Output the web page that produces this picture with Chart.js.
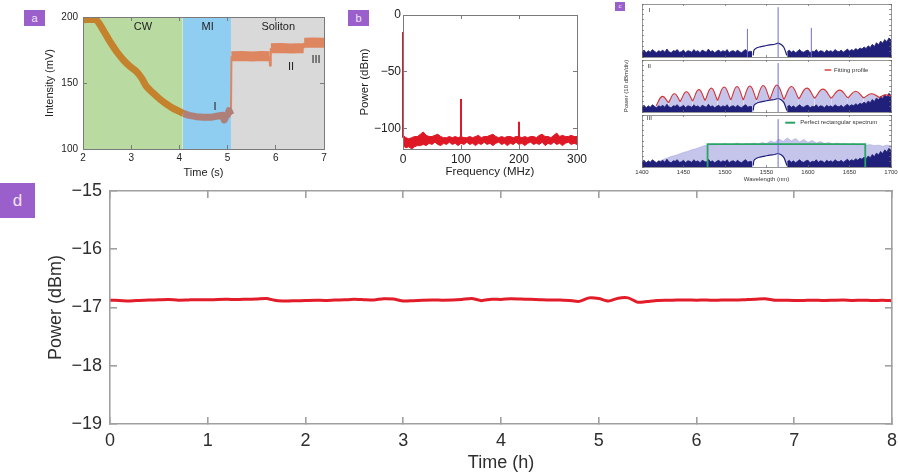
<!DOCTYPE html>
<html>
<head>
<meta charset="utf-8">
<title>Soliton microcomb measurements</title>
<script src="https://cdn.jsdelivr.net/npm/chart.js@4.4.0/dist/chart.umd.min.js"></script>
<style>
  body { margin: 0; width: 898px; height: 475px; background: #fff; position: relative; overflow: hidden; font-family: "Liberation Sans", Arial, sans-serif; }
  canvas { position: absolute; }
  .tag { position: absolute; background: #9b5fcb; color: #efe4f7; text-align: center; }
</style>
</head>
<body>
<div class="tag" style="left:24px;top:10px;width:21px;height:16px;font-size:11px;line-height:16px">a</div>
<div class="tag" style="left:348px;top:10px;width:21px;height:16px;font-size:11px;line-height:16px">b</div>
<div class="tag" style="left:615px;top:2px;width:10px;height:9px;font-size:6px;line-height:9px">c</div>
<div class="tag" style="left:0;top:183px;width:35px;height:35px;font-size:17px;line-height:35px">d</div>

<canvas id="chartA"></canvas>
<canvas id="chartB"></canvas>
<canvas id="chartC1"></canvas>
<canvas id="chartC2"></canvas>
<canvas id="chartC3"></canvas>
<canvas id="chartD"></canvas>

<script>
// ---- panel a : intensity vs time ----
const regionStart = [2, 4.07, 5.07];
const regionEnd = [4.07, 5.07, 7];
const regionNames = ['CW', 'MI', 'Soliton'];
const cwTime = [2.0, 2.25, 2.32, 2.42, 2.56, 2.70, 2.84, 2.98, 3.11, 3.22, 3.32, 3.46, 3.60, 3.74, 3.87, 4.01, 4.08];
const cwMv = [198, 198, 196, 190, 181.3, 173.7, 167.4, 162.4, 158.6, 153.5, 147.2, 142.2, 137.6, 133.8, 130.8, 128.3, 127];
const miTime = [4.08, 4.2, 4.35, 4.5, 4.65, 4.8, 4.9, 4.93, 4.97, 5.0, 5.03, 5.07];
const miMv = [127, 125.5, 124.5, 124, 124, 125, 125.5, 122, 125, 126, 129, 126];
const solTime = [5.07, 5.08, 5.3, 5.5, 5.7, 5.87, 5.88, 5.89, 5.9, 6.1, 6.3, 6.5, 6.58, 6.59, 6.8, 7.0];
const solMv = [126, 170.2, 170.5, 170, 170.4, 170.2, 163, 170.2, 176.3, 176.5, 176.2, 176.4, 176.3, 180.5, 180.6, 180.5];

// ---- panel b : RF spectrum ----
const bandStep = 5; // MHz between samples, from 0
const bandHigh = [-106,-108,-109,-108,-107,-107,-105,-103,-106,-107,
  -107,-106,-105,-107,-108,-108,-107,-108,-107,-108,
  -107,-108,-108,-107,-108,-107,-106,-108,-107,-107,
  -106,-105,-107,-108,-107,-108,-107,-107,-108,-107,
  -107,-108,-107,-108,-107,-107,-108,-106,-105,-107,
  -107,-108,-106,-104,-107,-106,-107,-107,-106,-107,-107];
const bandLow = [-115,-117,-116,-118,-116,-115,-115,-114,-115,-113,
  -114,-112,-114,-115,-113,-114,-112,-114,-113,-115,
  -113,-114,-112,-114,-113,-115,-113,-114,-112,-114,
  -113,-115,-113,-112,-114,-113,-115,-113,-114,-112,
  -114,-113,-115,-113,-112,-114,-113,-114,-112,-115,
  -113,-114,-112,-114,-113,-115,-113,-112,-114,-113,-114];
const rfSpikeMHz = [0, 100, 200];
const rfSpikeTop = [-15, -74, -94];
const rfSpikeBase = -108;

// ---- panel c : optical spectra (10 dB/div, 0-100 = full frame) ----
const floorStep = 2.5;
const floorWestStart = 1400;
const floorWest = [10,13,8,12,9,14,11,8,12,10, 13,9,15,10,8,12,11,14,9,10,
  13,8,12,11,9,14,10,12,8,13, 11,9,15,10,12,8,11,13,9,12,
  10,14,8,11,12,9,13,10,8,12, 14,9,11,10];
const floorEastStart = 1575;
const floorEast = [10,13,9,12,8,11,14,10,9,12, 13,8,11,10,14,9,12,11,8,13,
  10,12,9,14,11,10,13,9,12,15, 11,14,12,16,13,17,15,19,16,21,
  18,24,20,27,23,30,26,33,29,36,32];
const humpNm = [1534, 1535, 1538, 1542, 1548, 1554, 1560, 1564, 1568, 1571, 1573, 1574.5];
const humpLevel = [3, 13, 17, 19, 21, 23, 24, 26, 23, 18, 10, 3];
const lineNmI = [1527, 1564, 1604];
const lineTopI = [53, 94, 55];
const lineNmII = [1564];
const lineTopII = [94];
const lineNmIII = [1564];
const lineTopIII = [92];
const lobeEdge = [1417,1432,1446,1461,1476,1491,1507,1522,1538,1554,1571,1589,1608,1628,1648,1667,1686,1700];
const lobeEdgeLevel = [12,18,20,21,22,22,23,23,23,24,24,25,26,26,27,27,28,31];
const lobePeakNm = [1424.5,1439,1453.5,1468.5,1483.5,1499,1514.5,1530,1546,1562.5,1580,1598.5,1618,1638,1657.5,1676.5,1693];
const lobePeak = [30,35,39,43,46,48,49,50,51,52,49,46,44,42,40,35,33];
const combStart = 1420, combStep = 5;
const combLevel = [10,14,17,20,22,25,28,30,33,35,38,41,43,
  42,44,43,45,43,44,46,43,45,44, 46,44,47,45,50,47,54,49,56,50,
  55,48,53,47,51,46,49,45,47,44, 46,44,45,43,45,42,44,42,43,41, 42,40,42,41];
const rectNm = [1479, 1669];
const rectLevel = 44;

// ---- panel d : long-term power ----
const hourStep = 0.1;
const powerDbm = [-16.875,-16.880,-16.887,-16.878,-16.872,-16.868,-16.864,-16.874,-16.870,-16.866,
  -16.869,-16.862,-16.860,-16.864,-16.858,-16.855,-16.845,-16.880,-16.888,-16.884,
  -16.880,-16.876,-16.878,-16.872,-16.868,-16.860,-16.866,-16.870,-16.850,-16.856,
  -16.890,-16.884,-16.876,-16.872,-16.874,-16.872,-16.862,-16.845,-16.882,-16.858,
  -16.862,-16.850,-16.855,-16.860,-16.866,-16.872,-16.870,-16.880,-16.895,-16.835,
  -16.845,-16.890,-16.840,-16.835,-16.910,-16.895,-16.880,-16.876,-16.872,-16.870,
  -16.874,-16.872,-16.876,-16.870,-16.872,-16.866,-16.860,-16.848,-16.874,-16.876,
  -16.880,-16.878,-16.874,-16.880,-16.876,-16.872,-16.878,-16.874,-16.880,-16.876,-16.882];

// ---------------------------------------------------------------
Chart.defaults.font.family = '"Liberation Sans", Arial, sans-serif';
Chart.defaults.animation = false;
Chart.defaults.responsive = false;
Chart.defaults.plugins.legend.display = false;
Chart.defaults.plugins.tooltip.enabled = false;
Chart.defaults.elements.point.radius = 0;

const zip = (xs, ys) => xs.map((x, i) => ({x, y: ys[i]}));
const sampled = (start, step, ys) => ys.map((y, i) => ({x: start + i * step, y}));
// vertical strokes from base to top, broken with null between them
const strokes = (xs, tops, base) => xs.flatMap((x, i) => [{x, y: base}, {x, y: tops[i]}, {x, y: null}]);
const minus = v => String(v).replace('-', '\u2212');

function fitTo(size) {
  return sc => {
    if (sc.isHorizontal()) sc.height = size; else sc.width = size;
    sc.paddingLeft = sc.paddingRight = sc.paddingTop = sc.paddingBottom = 0;
  };
}

function frameAxes(box, plot, st) {
  const axis = (pos, lim, size, show, pad, title) => ({
    type: 'linear', position: pos, min: lim[0], max: lim[1], offset: false,
    afterFit: fitTo(size),
    // grid (inner tick marks) and border drawn after the datasets
    border: {display: true, color: st.frame, width: st.fw, z: 2},
    grid: {display: true, drawOnChartArea: false, drawTicks: true, tickLength: -st.tick,
           color: st.frame, lineWidth: st.fw, offset: false, z: 1},
    ticks: {display: show, stepSize: lim[2], includeBounds: false, autoSkip: false, maxRotation: 0,
            padding: pad, font: st.font, color: st.ink, callback: minus},
    title: title ? {display: true, text: title, font: st.titleFont, color: st.ink, padding: 0} : {display: false}
  });
  return {
    x: axis('bottom', st.x, box.b - plot.b, st.xLabels !== false, st.xPad, st.xTitle),
    x2: axis('top', st.x, 0, false, 0, null),
    y: axis('left', st.y, plot.l - box.l, st.yLabels !== false, st.yPad, st.yTitle),
    y2: axis('right', st.y, 0, false, 0, null)
  };
}

function notes(items) {
  return {
    id: 'notes',
    afterDatasetsDraw(chart) {
      const {ctx, scales} = chart;
      items.forEach(n => {
        const px = scales.x.getPixelForValue(n.x), py = scales.y.getPixelForValue(n.y);
        ctx.save();
        if (n.key) {
          ctx.strokeStyle = n.key; ctx.lineWidth = n.keyWidth;
          ctx.beginPath();
          ctx.moveTo(scales.x.getPixelForValue(n.keyFrom), py);
          ctx.lineTo(scales.x.getPixelForValue(n.keyTo), py);
          ctx.stroke();
        }
        ctx.font = n.font; ctx.fillStyle = n.color || '#222';
        ctx.textAlign = n.align || 'center'; ctx.textBaseline = 'middle';
        ctx.fillText(n.text, px, py);
        ctx.restore();
      });
    }
  };
}

function build(id, box, plot, datasets, scales, plugins) {
  const cv = document.getElementById(id);
  cv.width = box.r - box.l; cv.height = box.b - box.t;
  cv.style.left = box.l + 'px'; cv.style.top = box.t + 'px';
  return new Chart(cv, {
    type: 'line',
    data: {datasets},
    options: {
      layout: {autoPadding: false, padding: {top: plot.t - box.t, right: box.r - plot.r, left: 0, bottom: 0}},
      events: [],
      scales
    },
    plugins: plugins || []
  });
}

// ---- a ----
(function () {
  const box = {l: 43, t: 5, r: 335, b: 180}, plot = {l: 83, t: 17, r: 324, b: 149};
  const shade = ['#b9dba2', '#8fcdf1', '#d9d9d9'];
  const regions = regionStart.map((s, i) => ({
    data: [{x: s, y: 200}, {x: regionEnd[i], y: 200}],
    fill: 'start', backgroundColor: shade[i], borderWidth: 0, order: 10
  }));
  // steep transitions are thin in the trace
  const thinJumps = {borderWidth: c => (Math.abs(c.p1.parsed.y - c.p0.parsed.y) > 4 && c.p1.parsed.x - c.p0.parsed.x < 0.03 ? 2 : undefined)};
  const datasets = regions.concat([
    {data: zip(cwTime, cwMv), borderColor: '#c4822d', borderWidth: 7, tension: 0.3, borderJoinStyle: 'round', order: 1},
    {data: zip(miTime, miMv), borderColor: '#ae8079', borderWidth: 7, tension: 0, borderJoinStyle: 'round', order: 1},
    {data: zip(solTime, solMv), borderColor: '#de8660', borderWidth: 10, tension: 0, borderJoinStyle: 'bevel', order: 1,
     segment: thinJumps}
  ]);
  const f = '11px "Liberation Sans", Arial';
  const marks = [
    {text: regionNames[0], x: 3.245, y: 192.4, font: f},
    {text: regionNames[1], x: 4.587, y: 192.4, font: f},
    {text: regionNames[2], x: 6.05, y: 192.4, font: f},
    {text: 'I', x: 4.74, y: 131.6, font: f},
    {text: 'II', x: 6.315, y: 162.4, font: f},
    {text: 'III', x: 6.834, y: 167.4, font: f}
  ];
  build('chartA', box, plot, datasets, frameAxes(box, plot, {
    x: [2, 7, 1], y: [100, 200, 50], frame: '#7a7a7a', fw: 1, tick: 4,
    font: {size: 10}, titleFont: {size: 11}, ink: '#222', xPad: 7, yPad: 9,
    xTitle: 'Time (s)', yTitle: 'Intensity (mV)'
  }), [notes(marks)]);
})();

// ---- b ----
(function () {
  const box = {l: 358, t: 5, r: 592, b: 179}, plot = {l: 403, t: 15, r: 577, b: 149};
  const red = 'rgb(222,24,36)';
  const datasets = [
    {data: strokes(rfSpikeMHz, rfSpikeTop, rfSpikeBase), borderColor: red, borderWidth: 2, spanGaps: false,
     clip: {left: 3, top: 0, right: 0, bottom: 0}},
    {data: sampled(0, bandStep, bandHigh), borderColor: red, borderWidth: 1, fill: '+1', backgroundColor: red},
    {data: sampled(0, bandStep, bandLow), borderColor: red, borderWidth: 1}
  ];
  build('chartB', box, plot, datasets, frameAxes(box, plot, {
    x: [0, 300, 100], y: [-118, 0, 50], frame: '#7a7a7a', fw: 1, tick: 4,
    font: {size: 12}, titleFont: {size: 11.5}, ink: '#222', xPad: 7, yPad: 6,
    xTitle: 'Frequency (MHz)', yTitle: 'Power (dBm)'
  }));
})();

// ---- c ----
(function () {
  const navy = 'rgb(32,32,122)', line = 'rgb(110,110,205)', lav = 'rgba(158,158,222,0.6)';
  const small = '6px "Liberation Sans", Arial';
  const style = extra => Object.assign({
    x: [1400, 1700, 50], y: [0, 100, 10], frame: '#6a6a6a', fw: 0.7, tick: 2,
    font: {size: 6}, titleFont: {size: 6}, ink: '#333', xPad: 4, yPad: 0,
    xLabels: false, yLabels: false
  }, extra);
  const base = () => [
    {data: sampled(floorWestStart, floorStep, floorWest), fill: 'start', backgroundColor: navy, borderColor: navy, borderWidth: 0.8, order: 2},
    {data: sampled(floorEastStart, floorStep, floorEast), fill: 'start', backgroundColor: navy, borderColor: navy, borderWidth: 0.8, order: 2},
    {data: zip(humpNm, humpLevel), fill: 'start', backgroundColor: '#fff', borderColor: navy, borderWidth: 1.2, tension: 0.3, order: 3}
  ];

  // I
  let box = {l: 630, t: 0, r: 898, b: 58}, plot = {l: 642, t: 4, r: 891, b: 57};
  build('chartC1', box, plot, base().concat([
    {data: strokes(lineNmI, lineTopI, 0), borderColor: line, borderWidth: 1, spanGaps: false, order: 0}
  ]), frameAxes(box, plot, style({})), [notes([{text: 'I', x: 1408.8, y: 88, font: small}])]);

  // II
  const arcs = lobePeakNm.flatMap((px, i) => [
    {x: lobeEdge[i], y: lobeEdgeLevel[i]}, {x: px, y: lobePeak[i]},
    {x: lobeEdge[i + 1], y: lobeEdgeLevel[i + 1]}, {x: lobeEdge[i + 1], y: null}
  ]);
  box = {l: 623, t: 59, r: 898, b: 113}; plot = {l: 642, t: 60, r: 891, b: 112};
  build('chartC2', box, plot, base().concat([
    {data: arcs, fill: 'start', backgroundColor: lav, borderWidth: 0, tension: 0.45, spanGaps: false, order: 5},
    {data: arcs, borderColor: 'rgb(214,50,50)', borderWidth: 1.1, tension: 0.45, spanGaps: false, order: 1},
    {data: strokes(lineNmII, lineTopII, 0), borderColor: line, borderWidth: 1, spanGaps: false, order: 0}
  ]), frameAxes(box, plot, style({yTitle: 'Power (10 dBm/div)'})), [notes([
    {text: 'II', x: 1408.8, y: 87, font: small},
    {text: 'Fitting profile', x: 1631.4, y: 80.8, font: small, align: 'left', color: '#333',
     key: 'rgb(214,50,50)', keyWidth: 1.4, keyFrom: 1620, keyTo: 1628}
  ])]);

  // III
  box = {l: 630, t: 114, r: 898, b: 183}; plot = {l: 642, t: 115, r: 891, b: 167};
  const rect = [{x: rectNm[0], y: 0}, {x: rectNm[0], y: rectLevel}, {x: rectNm[1], y: rectLevel}, {x: rectNm[1], y: 0}];
  build('chartC3', box, plot, base().concat([
    {data: sampled(combStart, combStep, combLevel), fill: 'start', backgroundColor: lav, borderColor: 'rgba(150,150,220,0.8)', borderWidth: 0.6, order: 5},
    {data: rect, borderColor: 'rgb(40,165,100)', borderWidth: 1.8, order: 0.5},
    {data: strokes(lineNmIII, lineTopIII, 0), borderColor: line, borderWidth: 1, spanGaps: false, order: 0}
  ]), frameAxes(box, plot, style({xLabels: true, xTitle: 'Wavelength (nm)'})), [notes([
    {text: 'III', x: 1408.8, y: 94, font: small},
    {text: 'Perfect rectangular spectrum', x: 1590.6, y: 85.2, font: small, align: 'left', color: '#333',
     key: 'rgb(40,165,100)', keyWidth: 2, keyFrom: 1572.6, keyTo: 1584.6}
  ])]);
})();

// ---- d ----
(function () {
  const box = {l: 45, t: 180, r: 898, b: 474}, plot = {l: 110, t: 191, r: 892, b: 424};
  build('chartD', box, plot, [
    {data: sampled(0, hourStep, powerDbm), borderColor: 'rgb(226,28,40)', borderWidth: 3, tension: 0.2}
  ], frameAxes(box, plot, {
    x: [0, 8, 1], y: [-19, -15, 1], frame: '#a0a0a0', fw: 1.6, tick: 7,
    font: {size: 18}, titleFont: {size: 18}, ink: '#2e2e2e', xPad: 13, yPad: 15,
    xTitle: 'Time (h)', yTitle: 'Power (dBm)'
  }));
})();
</script>
</body>
</html>
